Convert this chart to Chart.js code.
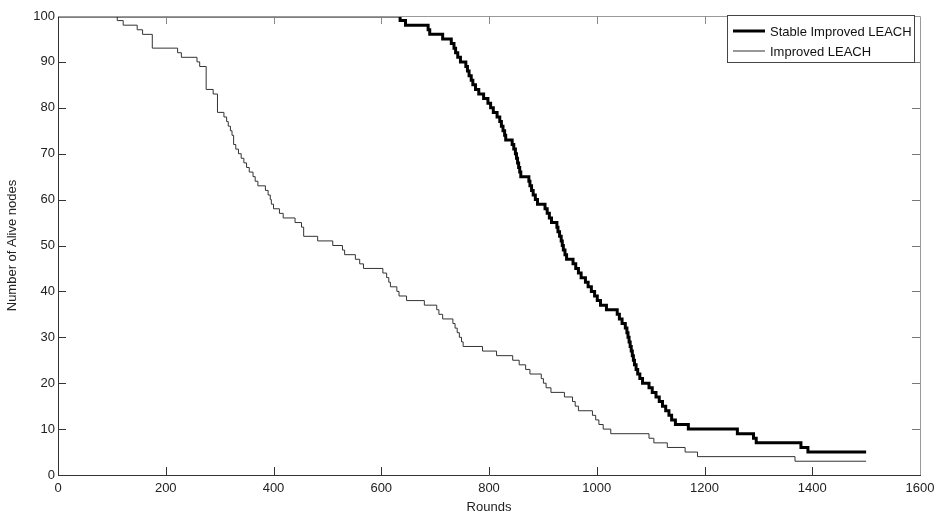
<!DOCTYPE html>
<html>
<head>
<meta charset="utf-8">
<title>Number of Alive nodes vs Rounds</title>
<script src="https://cdn.jsdelivr.net/npm/chart.js@4.4.1/dist/chart.umd.min.js"></script>
<style>
  html, body { margin: 0; padding: 0; background: #fff; }
  #wrap { width: 945px; height: 522px; }
</style>
</head>
<body>
<div id="wrap"><canvas id="aliveChart" width="945" height="522"></canvas></div>
<script>
// Rounds where the count of alive nodes changes, and the new count
const stableRounds = [0, 635, 645, 687, 690, 714, 730, 735, 738, 742, 747, 757, 760, 763, 767, 770, 775, 781, 790, 798,
  803, 808, 815, 820, 823, 826, 829, 831, 843, 846, 849, 851, 853, 855, 857, 859, 874, 876, 879, 882,
  886, 890, 904, 908, 912, 916, 926, 928, 931, 934, 936, 938, 941, 944, 956, 961, 966, 971, 979, 984,
  990, 996, 1001, 1007, 1018, 1038, 1042, 1047, 1053, 1056, 1058, 1060, 1062, 1064, 1066, 1068, 1070, 1073, 1076, 1080,
  1085, 1097, 1103, 1110, 1116, 1122, 1128, 1134, 1139, 1146, 1170, 1261, 1291, 1296, 1379, 1392, 1500];
const stableAlive = [100, 99, 98, 97, 96, 95, 94, 93, 92, 91, 90, 89, 88, 87, 86, 85, 84, 83, 82, 81,
  80, 79, 78, 77, 76, 75, 74, 73, 72, 71, 70, 69, 68, 67, 66, 65, 64, 63, 62, 61,
  60, 59, 58, 57, 56, 55, 54, 53, 52, 51, 50, 49, 48, 47, 46, 45, 44, 43, 42, 41,
  40, 39, 38, 37, 36, 35, 34, 33, 32, 31, 30, 29, 28, 27, 26, 25, 24, 23, 22, 21,
  20, 19, 18, 17, 16, 15, 14, 13, 12, 11, 10, 9, 8, 7, 6, 5, 5];

const improvedRounds = [0, 110, 121, 147, 157, 175, 222, 229, 258, 263, 275, 288, 296, 308, 313, 316, 320, 323, 326, 330,
  335, 340, 345, 350, 355, 362, 366, 371, 385, 390, 394, 396, 400, 411, 418, 440, 452, 456, 482, 510,
  528, 532, 552, 560, 567, 603, 610, 614, 617, 629, 633, 647, 680, 703, 707, 714, 733, 737, 741, 745,
  749, 752, 788, 814, 844, 856, 868, 876, 897, 901, 906, 915, 940, 955, 960, 966, 992, 998, 1004, 1012,
  1026, 1097, 1106, 1131, 1164, 1187, 1368, 1500];
const improvedAlive = [100, 99, 98, 97, 96, 93, 92, 91, 90, 89, 84, 83, 79, 78, 77, 76, 75, 74, 72, 71,
  70, 69, 68, 67, 66, 65, 64, 63, 62, 61, 60, 59, 58, 57, 56, 55, 54, 52, 51, 50,
  49, 48, 47, 46, 45, 44, 43, 42, 41, 40, 39, 38, 37, 36, 35, 34, 33, 32, 31, 30,
  29, 28, 27, 26, 25, 24, 23, 22, 21, 20, 19, 18, 17, 16, 15, 14, 13, 12, 11, 10,
  9, 8, 7, 6, 5, 4, 3, 3];

const xTicks = [0, 200, 400, 600, 800, 1000, 1200, 1400, 1600];
const yTicks = [0, 10, 20, 30, 40, 50, 60, 70, 80, 90, 100];

const FONT = "'Liberation Sans', Arial, Helvetica, sans-serif";
const toPoints = (xs, ys) => xs.map((x, i) => ({ x, y: ys[i] }));

// MATLAB-style inward ticks on all four sides, plus light top/right frame
const frameTicks = {
  id: "frameTicks",
  afterDatasetsDraw(chart) {
    const { ctx, chartArea: a, scales } = chart;
    const len = 8;
    ctx.save();
    ctx.lineWidth = 1;
    // top & right frame
    ctx.strokeStyle = "#9a9a9a";
    ctx.beginPath();
    ctx.moveTo(a.left, a.top + 0.5);
    ctx.lineTo(a.right + 0.5, a.top + 0.5);
    ctx.lineTo(a.right + 0.5, a.bottom);
    ctx.stroke();
    xTicks.forEach(v => {
      const px = Math.round(scales.x.getPixelForValue(v)) + 0.5;
      if (v === xTicks[0] || v === xTicks[xTicks.length - 1]) return;
      ctx.strokeStyle = "#333";
      ctx.beginPath(); ctx.moveTo(px, a.bottom); ctx.lineTo(px, a.bottom - len); ctx.stroke();
      ctx.strokeStyle = "#888";
      ctx.beginPath(); ctx.moveTo(px, a.top); ctx.lineTo(px, a.top + len); ctx.stroke();
    });
    yTicks.forEach(v => {
      const py = Math.round(scales.y.getPixelForValue(v)) + 0.5;
      if (v === yTicks[0] || v === yTicks[yTicks.length - 1]) return;
      ctx.strokeStyle = "#333";
      ctx.beginPath(); ctx.moveTo(a.left, py); ctx.lineTo(a.left + len, py); ctx.stroke();
      ctx.strokeStyle = "#777";
      ctx.beginPath(); ctx.moveTo(a.right, py); ctx.lineTo(a.right - len, py); ctx.stroke();
    });
    ctx.restore();
  }
};

// Boxed legend in the top-right corner
const boxLegend = {
  id: "boxLegend",
  afterDraw(chart) {
    const { ctx, chartArea: a } = chart;
    const x0 = a.right - 193, y0 = a.top - 1, w = 187, h = 47;
    ctx.save();
    ctx.fillStyle = "#fff";
    ctx.fillRect(x0, y0, w, h);
    ctx.strokeStyle = "#444";
    ctx.lineWidth = 1;
    ctx.strokeRect(x0 + 0.5, y0 + 0.5, w, h);
    ctx.font = "13px " + FONT;
    ctx.textBaseline = "middle";
    ctx.fillStyle = "#111";
    chart.data.datasets.forEach((ds, i) => {
      const y = y0 + 16 + i * 20;
      ctx.strokeStyle = ds.borderColor;
      ctx.lineWidth = ds.borderWidth;
      ctx.beginPath(); ctx.moveTo(x0 + 6, y); ctx.lineTo(x0 + 38, y); ctx.stroke();
      ctx.fillText(ds.label, x0 + 43, y + 1);
    });
    ctx.restore();
  }
};

new Chart(document.getElementById("aliveChart"), {
  type: "line",
  data: {
    datasets: [
      {
        label: "Stable Improved LEACH",
        data: toPoints(stableRounds, stableAlive),
        borderColor: "#000",
        borderWidth: 3,
        stepped: "before",
        pointRadius: 0,
        fill: false
      },
      {
        label: "Improved LEACH",
        data: toPoints(improvedRounds, improvedAlive),
        borderColor: "#333",
        borderWidth: 1,
        stepped: "before",
        pointRadius: 0,
        fill: false
      }
    ]
  },
  options: {
    responsive: false,
    animation: false,
    layout: { padding: { top: 16, right: 25, left: 0, bottom: 0 } },
    plugins: { legend: { display: false }, tooltip: { enabled: false } },
    scales: {
      x: {
        type: "linear",
        min: 0,
        max: 1600,
        afterBuildTicks(scale) { scale.ticks = xTicks.map(v => ({ value: v })); },
        afterFit(scale) { scale.height = 47; },
        ticks: { color: "#222", font: { size: 13, family: FONT }, padding: 6, maxRotation: 0,
          callback: v => String(v) },
        grid: { display: false, drawTicks: false },
        border: { display: true, color: "#333", width: 1 },
        title: { display: true, text: "Rounds", color: "#222", font: { size: 13, family: FONT }, padding: { top: 2, bottom: 7 } }
      },
      y: {
        type: "linear",
        min: 0,
        max: 100,
        afterBuildTicks(scale) { scale.ticks = yTicks.map(v => ({ value: v })); },
        afterFit(scale) { scale.width = 58; },
        ticks: { color: "#222", font: { size: 13, family: FONT }, padding: 3, callback: v => String(v) },
        grid: { display: false, drawTicks: false },
        border: { display: true, color: "#333", width: 1 },
        title: { display: true, text: "Number of Alive nodes", color: "#222", font: { size: 13, family: FONT }, padding: { top: 5, bottom: 4 } }
      }
    }
  },
  plugins: [frameTicks, boxLegend]
});
</script>
</body>
</html>
